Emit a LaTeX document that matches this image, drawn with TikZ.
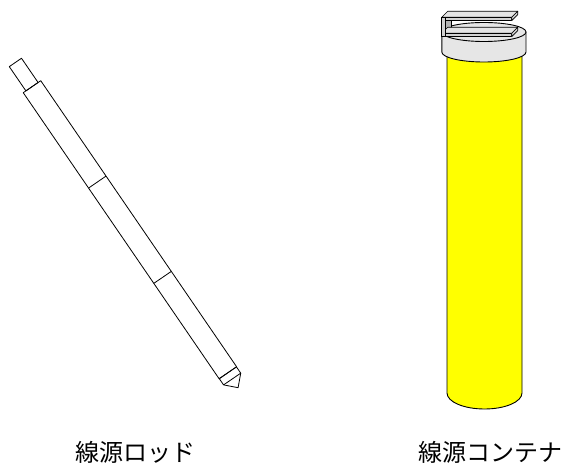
\documentclass[tikz,border=0pt]{standalone}
\usepackage{fontspec}
\newfontfamily\cjk{Noto Sans CJK JP}
\definecolor{capgray}{HTML}{E6E6E6}
\definecolor{cliptop}{HTML}{E4E4E4}
\definecolor{clipfront}{HTML}{D2D2D2}
\definecolor{clipinner}{HTML}{B4B4B4}
\definecolor{bodyyellow}{HTML}{FFFF00}
\begin{document}
\begin{tikzpicture}[x=1pt,y=-1pt,line join=round,
  rodline/.style={draw=black,line width=0.8pt},
  outline/.style={draw=black,line width=0.9pt},
  clippart/.style={draw=black,line width=0.7pt},
  lbl/.style={inner sep=0pt,font=\cjk\fontsize{24}{28}\selectfont}]
\useasboundingbox (0,0) rectangle (570,465);

% ---- source rod (axis measured from the shoulder) ----
\begin{scope}[shift={(32,86.7)},rotate=-55.6]
  \draw[rodline] (-29.4,-7.4) rectangle (0,7.4);          % handle end
  \draw[rodline] (0,-10.6) rectangle (346.7,10.6);        % main shaft
  \draw[rodline] (115.6,-10.6) -- (115.6,10.6);           % joints
  \draw[rodline] (231.1,-10.6) -- (231.1,10.6);
  \draw[rodline] (346.7,-10.4) rectangle (354.3,10.4);    % tip collar
  \draw[rodline] (354.3,-10.4) -- (364.8,0) -- (354.3,10.4); % pointed tip
\end{scope}

% ---- source container ----
% yellow body
\draw[outline,fill=bodyyellow] (447,50) -- (447,393)
  arc[start angle=180,end angle=0,x radius=37.5,y radius=16]
  -- (522,50) -- cycle;
% cap
\draw[outline,fill=capgray] (441.8,32) -- (441.8,52)
  arc[start angle=180,end angle=0,x radius=42.1,y radius=10]
  -- (526,32) -- cycle;
\draw[outline,fill=capgray] (483.9,32) ellipse[x radius=42.1,y radius=9.5];

% clip on the cap: inner face of the web
\draw[clippart,fill=clipinner] (445.4,20.6) -- (451.4,14.6) -- (451.4,27.3) -- (445.4,33.3) -- cycle;
% lower plate
\draw[clippart,fill=cliptop] (441.7,33.3) -- (511.7,33.3) -- (517.7,27.3) -- (447.7,27.3) -- cycle;
\draw[clippart,fill=clipfront] (441.7,33.3) rectangle (511.7,36.6);
\draw[clippart,fill=clipfront] (511.7,33.3) -- (517.7,27.3) -- (517.7,30.6) -- (511.7,36.6) -- cycle;
% upper plate
\draw[clippart,fill=cliptop] (441.7,17.3) -- (511.7,17.3) -- (517.7,11.3) -- (447.7,11.3) -- cycle;
\draw[clippart,fill=clipfront] (441.7,17.3) rectangle (511.7,20.6);
\draw[clippart,fill=clipfront] (511.7,17.3) -- (517.7,11.3) -- (517.7,14.6) -- (511.7,20.6) -- cycle;
% front edge of the web
\draw[clippart,fill=clipfront] (441.7,17.3) rectangle (445.4,36.6);

% ---- labels ----
\node[lbl] (rodlabel) at (135,452.5) {線源ロッド};
\node[lbl] (conlabel) at (490.5,452.5) {線源コンテナ};
\end{tikzpicture}
\end{document}
